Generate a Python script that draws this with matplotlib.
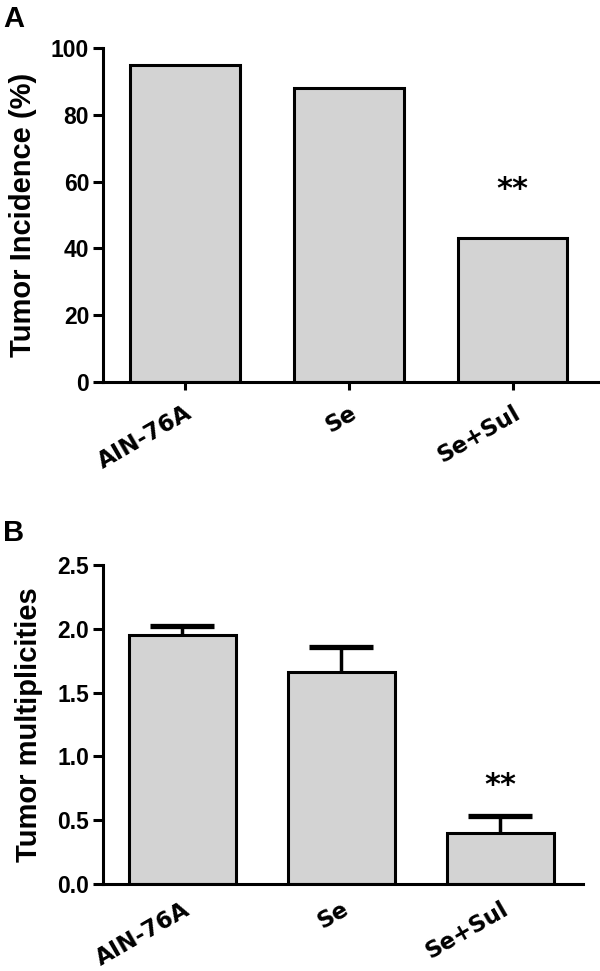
import matplotlib
matplotlib.use("Agg")
import matplotlib.pyplot as plt

# data
groups = ["AIN-76A", "Se", "Se+Sul"]
incidence = [95, 88, 43]
multiplicity = [1.95, 1.66, 0.40]
multiplicity_err = [0.07, 0.20, 0.13]

bar_color = "#d3d3d3"
tick_font = ["Liberation Sans Narrow", "Liberation Sans", "DejaVu Sans"]
label_font = ["Liberation Sans", "DejaVu Sans"]

fig = plt.figure(figsize=(6.0, 9.71), dpi=100)
axA = fig.add_axes([0.1717, 0.6066, 0.825, 0.344])
axB = fig.add_axes([0.1717, 0.0896, 0.80, 0.3285])

x = list(range(len(groups)))


def style(ax):
    for s in ["top", "right"]:
        ax.spines[s].set_visible(False)
    for s in ["left", "bottom"]:
        ax.spines[s].set_linewidth(2.2)
    ax.tick_params(axis="y", width=2.2, length=7, pad=3)
    ax.set_xlim(-0.5, 2.52)
    for lbl in ax.get_yticklabels():
        lbl.set_family(tick_font)
        lbl.set_fontweight("bold")
        lbl.set_fontsize(16.5)
    ax.set_xticks(x)
    ax.set_xticklabels(groups, rotation=30, ha="right", rotation_mode="anchor",
                       fontsize=16.5, fontweight="bold", family=["DejaVu Sans"])


# panel A
axA.bar(x, incidence, width=0.667, color=bar_color, edgecolor="black", linewidth=2.2)
axA.set_ylim(0, 100)
axA.set_yticks([0, 20, 40, 60, 80, 100])
style(axA)
axA.tick_params(axis="x", width=2.2, length=6, pad=8)
axA.set_ylabel("Tumor Incidence (%)", fontsize=21, fontweight="bold", family=label_font, labelpad=10)
axA.text(2, 57.5, "**", ha="center", va="center", fontsize=22, fontweight="bold")
fig.text(0.005, 0.995, "A", ha="left", va="top", fontsize=21, fontweight="bold", family=label_font)

# panel B
axB.bar(x, multiplicity, width=0.67, color=bar_color, edgecolor="black", linewidth=2.2)
eb = axB.errorbar(x, multiplicity, yerr=[[0] * 3, multiplicity_err], fmt="none",
                  ecolor="black", elinewidth=2.5, capsize=23, capthick=3.8)
# only the upper cap is shown
eb[1][0].set_visible(False)
axB.set_ylim(0, 2.5)
axB.set_yticks([0.0, 0.5, 1.0, 1.5, 2.0, 2.5])
axB.set_yticklabels(["0.0", "0.5", "1.0", "1.5", "2.0", "2.5"])
style(axB)
axB.tick_params(axis="x", length=0, pad=10)
axB.set_ylabel("Tumor multiplicities", fontsize=21, fontweight="bold", family=label_font, labelpad=10)
axB.text(2, 0.77, "**", ha="center", va="center", fontsize=22, fontweight="bold")
fig.text(0.005, 0.465, "B", ha="left", va="top", fontsize=21, fontweight="bold", family=label_font)

fig.savefig("out.png", dpi=100)
